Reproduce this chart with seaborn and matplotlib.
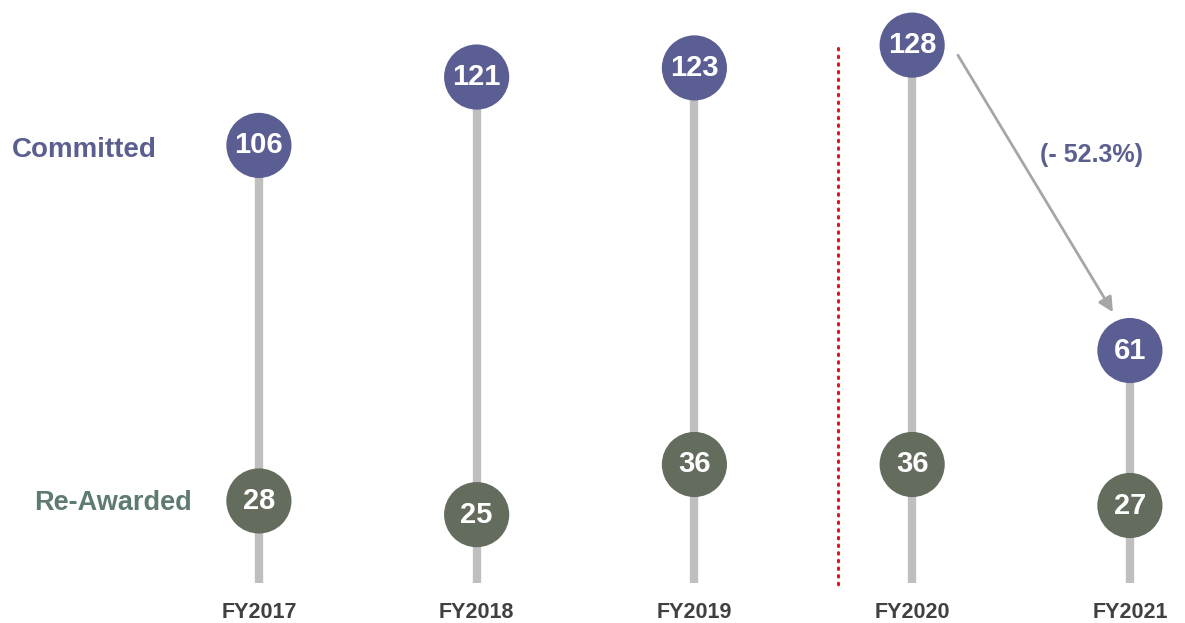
import matplotlib
matplotlib.use("Agg")
import matplotlib.pyplot as plt
import seaborn as sns
import pandas as pd

# Award counts per fiscal year
years = ["FY2017", "FY2018", "FY2019", "FY2020", "FY2021"]
committed = [106, 121, 123, 128, 61]
re_awarded = [28, 25, 36, 36, 27]
change_label = "(- 52.3%)"

sns.set_theme(style="white")
plt.rcParams["font.family"] = ["Liberation Sans", "DejaVu Sans"]

COL_COMMIT = "#5a5e93"
COL_REAWARD = "#636c5d"
COL_STEM = "#bfbfbf"

fig = plt.figure(figsize=(11.85, 6.23), dpi=100)
ax = fig.add_axes([0, 40 / 623, 1, 583 / 623])

xs = list(range(len(years)))
df = pd.DataFrame({
    "x": xs * 2,
    "value": committed + re_awarded,
    "series": ["Committed"] * len(years) + ["Re-Awarded"] * len(years),
})

base = 10
ax.vlines(xs, base, committed, color=COL_STEM, lw=6, zorder=1)

sns.scatterplot(data=df, x="x", y="value", hue="series",
                palette={"Committed": COL_COMMIT, "Re-Awarded": COL_REAWARD},
                s=2200, edgecolor="none", legend=False, ax=ax, zorder=3)

for x, v in zip(df["x"], df["value"]):
    ax.text(x, v, f"{v}", ha="center", va="center", color="white",
            fontsize=21, fontweight="bold", zorder=4)

# Row labels
ax.text(-0.80, committed[0] - 1, "Committed", ha="center", va="center",
        color="#5b5f8f", fontsize=20, fontweight="bold")
ax.text(-0.67, re_awarded[0] - 0.5, "Re-Awarded", ha="center", va="center",
        color="#5e7b73", fontsize=19.5, fontweight="bold")

# Separator between historic and current years
ax.plot([2.659, 2.659], [127.3, 9.6], color="#e0141e", lw=2.2,
        linestyle=(0, (0.5, 2.0)), dash_capstyle="round", clip_on=False, zorder=1)

# Change from FY2020 to FY2021
ax.annotate("", xy=(3.922, 69.4), xytext=(3.21, 125.8),
            arrowprops=dict(arrowstyle="-|>", color="#a6a6a6", lw=2,
                            mutation_scale=22, shrinkA=0, shrinkB=0))
ax.text(3.825, 103.9, change_label, ha="center", va="center",
        color="#5b5f8f", fontsize=18, fontweight="bold")

ax.set_xlim(-1.189, 4.253)
ax.set_ylim(base, 137.9)
ax.set_xticks(xs)
ax.set_xticklabels(years, fontsize=15.5, fontweight="bold", color="#404040")
ax.tick_params(axis="x", length=0, pad=14)
ax.set_yticks([])
ax.set_xlabel("")
ax.set_ylabel("")
for sp in ax.spines.values():
    sp.set_visible(False)

fig.savefig("out.png", dpi=100, facecolor="white")
